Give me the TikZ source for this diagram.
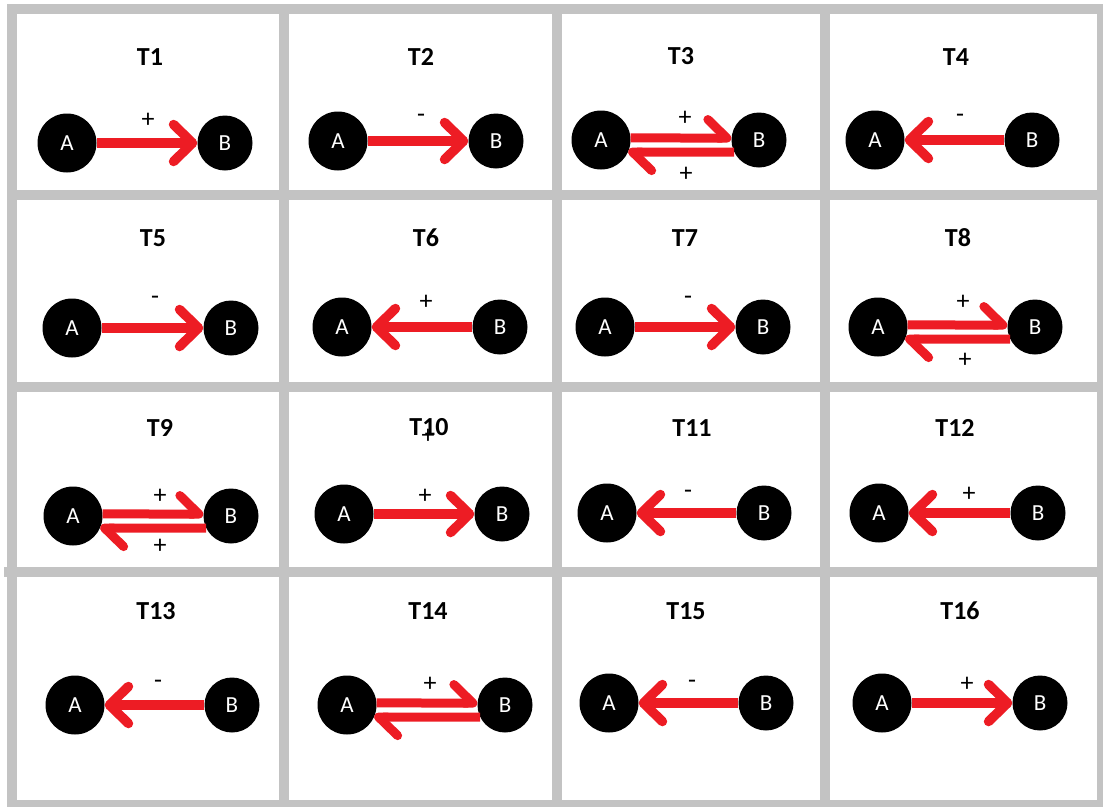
\documentclass[tikz,border=0pt]{standalone}
\usepackage{fontspec}
\setmainfont{Carlito}
\usetikzlibrary{arrows.meta}
\definecolor{paintred}{HTML}{ED1C24}
\definecolor{gridgray}{HTML}{C3C3C3}
\begin{document}
\begin{tikzpicture}[x=1pt,y=-1pt,
  celltitle/.style={font=\fontsize{26}{30}\selectfont\bfseries, inner sep=0pt},
  signlabel/.style={font=\fontsize{26}{30}\selectfont, inner sep=0pt},
  vtx/.style={circle, fill=black, text=white, inner sep=0pt, font=\fontsize{23}{27}\selectfont},
  vA/.style={vtx, minimum size=59pt},
  vB/.style={vtx, minimum size=55pt},
  link/.style={draw=paintred, line width=9.5pt, -{Straight Barb[length=19pt,width=37pt,round]}},
  halflink/.style={draw=paintred, line width=9pt, -{Straight Barb[length=19pt,width=37pt,round,harpoon]}},
  gridline/.style={draw=gridgray, line width=10pt}]

% page and frame
\fill[white] (0,0) rectangle (1103,806);
\useasboundingbox (0,0) rectangle (1103,806);
\foreach \y in {9,195,387,805} \draw[gridline] (7,\y) -- (1103,\y);
\draw[gridline] (4,572) -- (1103,572);
\foreach \x in {12,284,557,824.5,1102} \draw[gridline] (\x,4) -- (\x,806);

% ---- row 1 ----
\node[celltitle] (t1) at (150,57) {T1};
\node[vA] (a1) at (67,143) {A};
\node[vB] (b1) at (225,143) {B};
\draw[link] (a1) -- (b1);
\node[signlabel] (s1) at (148,120) {+};

\node[celltitle] (t2) at (421,57) {T2};
\node[vA] (a2) at (338,141) {A};
\node[vB] (b2) at (496,141) {B};
\draw[link] (a2) -- (b2);
\node[signlabel] (s2) at (421,118) {-};

\node[celltitle] (t3) at (681,56) {T3};
\node[vA] (a3) at (601,140) {A};
\node[vB] (b3) at (759,140) {B};
\draw[halflink] (a3.4) -- (b3.176);
\draw[halflink] (b3.206) -- (a3.-24);
\node[signlabel] (s3) at (685,118) {+};
\node[signlabel] (r3) at (686,174) {+};

\node[celltitle] (t4) at (956,57) {T4};
\node[vA] (a4) at (875,140) {A};
\node[vB] (b4) at (1032,140) {B};
\draw[link] (b4) -- (a4);
\node[signlabel] (s4) at (960,118) {-};

% ---- row 2 ----
\node[celltitle] (t5) at (153,238) {T5};
\node[vA] (a5) at (72,328) {A};
\node[vB] (b5) at (231,328) {B};
\draw[link] (a5) -- (b5);
\node[signlabel] (s5) at (155,300) {-};

\node[celltitle] (t6) at (426,238) {T6};
\node[vA] (a6) at (342,327) {A};
\node[vB] (b6) at (500,327) {B};
\draw[link] (b6) -- (a6);
\node[signlabel] (s6) at (426,302) {+};

\node[celltitle] (t7) at (685,238) {T7};
\node[vA] (a7) at (605,327) {A};
\node[vB] (b7) at (763,327) {B};
\draw[link] (a7) -- (b7);
\node[signlabel] (s7) at (688,300) {-};

\node[celltitle] (t8) at (958,238) {T8};
\node[vA] (a8) at (878,327) {A};
\node[vB] (b8) at (1035,327) {B};
\draw[halflink] (a8.4) -- (b8.176);
\draw[halflink] (b8.206) -- (a8.-24);
\node[signlabel] (s8) at (963,302) {+};
\node[signlabel] (r8) at (965,360) {+};

% ---- row 3 ----
\node[celltitle] (t9) at (160,428) {T9};
\node[vA] (a9) at (73,516) {A};
\node[vB] (b9) at (231,516) {B};
\draw[halflink] (a9.4) -- (b9.176);
\draw[halflink] (b9.206) -- (a9.-24);
\node[signlabel] (s9) at (160,496) {+};
\node[signlabel] (r9) at (160,546) {+};

% a stray plus sign sits across this title
\node[celltitle] (t10) at (429,427) {T10};
\node[signlabel] (x10) at (428,436) {+};
\node[vA] (a10) at (344,514) {A};
\node[vB] (b10) at (502,514) {B};
\draw[link] (a10) -- (b10);
\node[signlabel] (s10) at (425,496) {+};

\node[celltitle] (t11) at (692,428) {T11};
\node[vA] (a11) at (607,513) {A};
\node[vB] (b11) at (764,513) {B};
\draw[link] (b11) -- (a11);
\node[signlabel] (s11) at (688,494) {-};

\node[celltitle] (t12) at (955,428) {T12};
\node[vA] (a12) at (879,513) {A};
\node[vB] (b12) at (1038,513) {B};
\draw[link] (b12) -- (a12);
\node[signlabel] (s12) at (969,494) {+};

% ---- row 4 ----
\node[celltitle] (t13) at (156,611) {T13};
\node[vA] (a13) at (75,705) {A};
\node[vB] (b13) at (232,705) {B};
\draw[link] (b13) -- (a13);
\node[signlabel] (s13) at (158,684) {-};

\node[celltitle] (t14) at (428,611) {T14};
\node[vA] (a14) at (347,705) {A};
\node[vB] (b14) at (505,705) {B};
\draw[halflink] (a14.4) -- (b14.176);
\draw[halflink] (b14.206) -- (a14.-24);
\node[signlabel] (s14) at (430,684) {+};

\node[celltitle] (t15) at (686,611) {T15};
\node[vA] (a15) at (609,703) {A};
\node[vB] (b15) at (766,703) {B};
\draw[link] (b15) -- (a15);
\node[signlabel] (s15) at (692,684) {-};

\node[celltitle] (t16) at (960,611) {T16};
\node[vA] (a16) at (882,703) {A};
\node[vB] (b16) at (1040,703) {B};
\draw[link] (a16) -- (b16);
\node[signlabel] (s16) at (967,684) {+};
\end{tikzpicture}
\end{document}
